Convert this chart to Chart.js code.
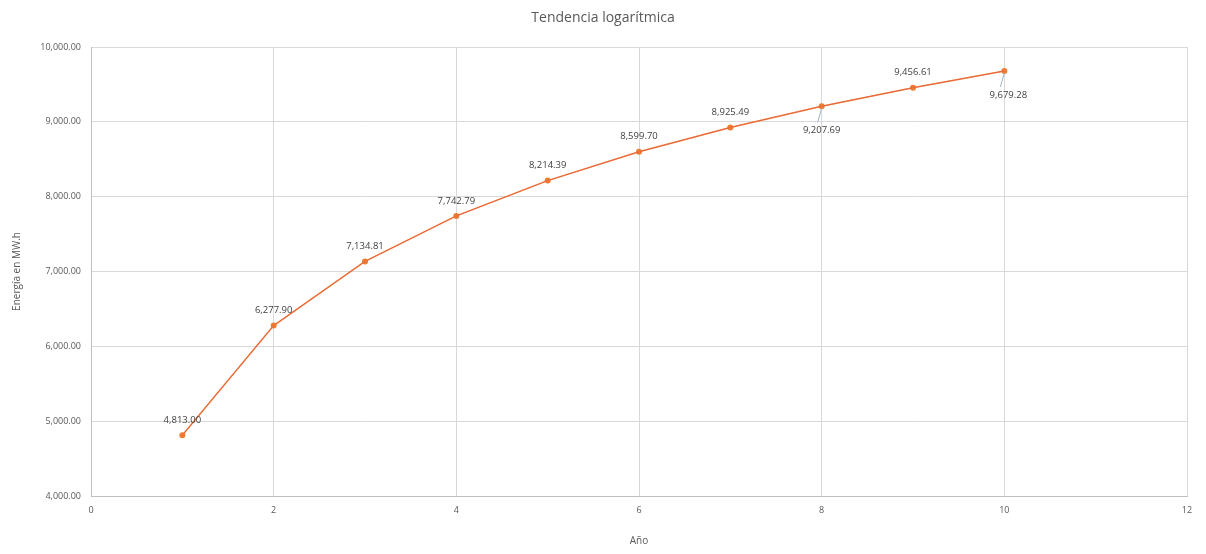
<!DOCTYPE html>
<html>
<head>
<meta charset="utf-8">
<script src="https://cdn.jsdelivr.net/npm/chart.js@4/dist/chart.umd.min.js"></script>
<style>
html,body{margin:0;padding:0;background:#fff;}
#wrap{width:1206px;height:554px;position:relative;}
</style>
</head>
<body>
<div id="wrap"><canvas id="c" width="1206" height="554"></canvas></div>
<script>
const years = [1, 2, 3, 4, 5, 6, 7, 8, 9, 10];
const energy = [4813.00, 6277.90, 7134.81, 7742.79, 8214.39, 8599.70, 8925.49, 9207.69, 9456.61, 9679.28];
const xTicks = [0, 2, 4, 6, 8, 10, 12];
const yTicks = [4000, 5000, 6000, 7000, 8000, 9000, 10000];
const labelBelow = [false, false, false, false, false, false, false, true, false, true];
const titleText = 'Tendencia logarítmica';
const yTitle = 'Energía en MW.h';
const xTitle = 'Año';

const fmt = v => v.toLocaleString('en-US', {minimumFractionDigits: 2, maximumFractionDigits: 2});
const pts = years.map((x, i) => ({x: x, y: energy[i]}));
const FONT = "'Open Sans', 'Noto Sans', sans-serif";
const GREY = '#595959';

const labelPlugin = {
  id: 'labels',
  afterDatasetsDraw(chart) {
    const ctx = chart.ctx;
    const meta = chart.getDatasetMeta(0);
    ctx.save();
    ctx.font = '9.5px ' + FONT;
    ctx.fillStyle = '#404040';
    ctx.textAlign = 'center';
    ctx.textBaseline = 'middle';
    meta.data.forEach((el, i) => {
      const below = labelBelow[i];
      const ty = below ? el.y + 24 : el.y - 15;
      if (below) {
        ctx.strokeStyle = '#9DB3C8';
        ctx.lineWidth = 1;
        ctx.beginPath();
        ctx.moveTo(el.x, el.y + 2);
        ctx.lineTo(el.x - 4, el.y + 16);
        ctx.stroke();
      }
      ctx.fillText(fmt(energy[i]), el.x + (below && i === 9 ? 4 : 0), ty);
    });
    ctx.restore();
  }
};

const titlePlugin = {
  id: 'ttl',
  afterDraw(chart) {
    const ctx = chart.ctx;
    ctx.save();
    ctx.font = '14px ' + FONT;
    ctx.fillStyle = GREY;
    ctx.textAlign = 'center';
    ctx.textBaseline = 'middle';
    ctx.fillText(titleText, 603, 18);
    ctx.restore();
  }
};

new Chart(document.getElementById('c'), {
  type: 'scatter',
  data: {
    datasets: [{
      data: pts,
      showLine: true,
      borderColor: '#ED7D31',
      backgroundColor: '#ED7D31',
      borderWidth: 1.5,
      pointRadius: 3,
      pointStyle: 'circle',
      pointBorderWidth: 0,
      tension: 0,
      order: 2
    }, {
      data: pts,
      showLine: true,
      borderColor: 'rgba(230,80,80,0.5)',
      borderWidth: 1,
      pointRadius: 0,
      tension: 0,
      order: 1
    }]
  },
  options: {
    responsive: false,
    animation: false,
    layout: {padding: {top: 47, right: 19, left: 0, bottom: 0}},
    plugins: {legend: {display: false}, tooltip: {enabled: false}, title: {display: false}},
    scales: {
      x: {
        type: 'linear', min: 0, max: 12,
        afterBuildTicks: s => { s.ticks = xTicks.map(v => ({value: v})); },
        afterFit: s => { s.height = 58; },
        grid: {color: '#D9D9D9', drawTicks: false},
        border: {color: '#BFBFBF'},
        ticks: {color: GREY, font: {size: 9, family: FONT}, padding: 9, callback: v => String(v)},
        title: {display: true, text: xTitle, color: GREY, font: {size: 10, family: FONT}, padding: {top: 0, bottom: 7}}
      },
      y: {
        type: 'linear', min: 4000, max: 10000,
        afterBuildTicks: s => { s.ticks = yTicks.map(v => ({value: v})); },
        afterFit: s => { s.width = 91; },
        grid: {color: '#D9D9D9', drawTicks: false},
        border: {color: '#BFBFBF'},
        ticks: {color: GREY, font: {size: 9, family: FONT}, padding: 10, callback: v => fmt(v)},
        title: {display: true, text: yTitle, color: GREY, font: {size: 10, family: FONT}, padding: {top: 11, bottom: 0}}
      }
    }
  },
  plugins: [labelPlugin, titlePlugin]
});
</script>
</body>
</html>
